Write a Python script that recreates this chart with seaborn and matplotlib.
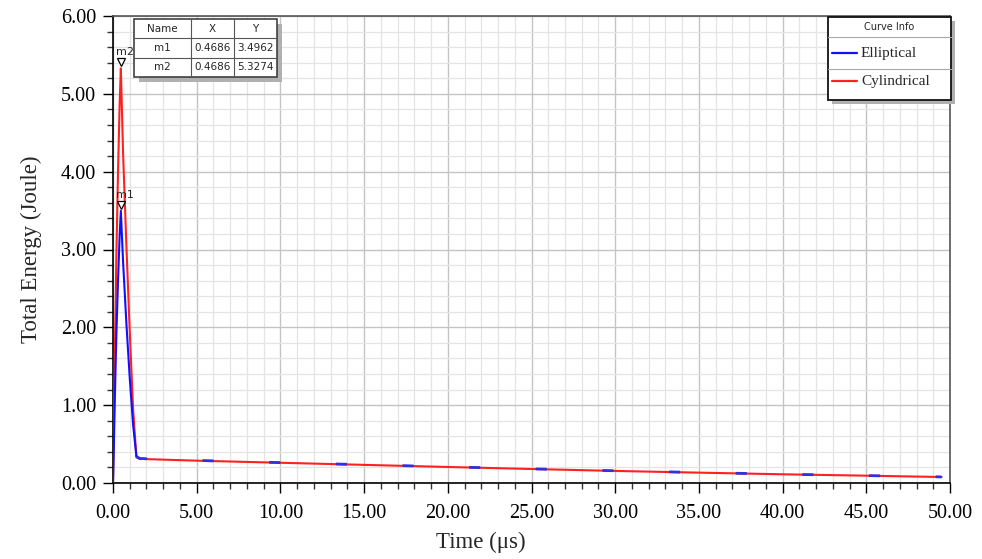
import numpy as np
import pandas as pd
import matplotlib.pyplot as plt
import seaborn as sns
from matplotlib.patches import Rectangle
from matplotlib.lines import Line2D
from matplotlib.ticker import MultipleLocator, FormatStrFormatter

# time axis (microseconds)
time_us = [0.0, 0.05, 0.1, 0.2, 0.3, 0.4, 0.4686, 0.6, 0.8, 1.0, 1.2, 1.4, 1.6,
           3.0, 5.0, 10.0, 15.0, 20.0, 25.0, 30.0, 35.0, 40.0, 45.0, 49.5]
elliptical = [0.0, 0.46, 1.0, 1.9, 2.6, 3.2, 3.4962, 2.85, 2.05, 1.35, 0.75, 0.34, 0.315,
              0.305, 0.29, 0.262, 0.235, 0.208, 0.182, 0.157, 0.135, 0.113, 0.095, 0.078]
cylindrical = [0.0, 0.6, 1.5, 2.9, 4.0, 4.9, 5.3274, 4.25, 3.05, 1.95, 0.95, 0.33, 0.31,
               0.30, 0.287, 0.26, 0.233, 0.206, 0.18, 0.155, 0.133, 0.112, 0.094, 0.077]

# marker table
marker_names = ['m1', 'm2']
marker_x = [0.4686, 0.4686]
marker_y = [3.4962, 5.3274]

df = pd.DataFrame({'Time': time_us, 'Elliptical': elliptical, 'Cylindrical': cylindrical})
peak = df[df['Time'] <= 1.6]
tail = df[df['Time'] >= 1.4]

W, H = 982, 559
fig = plt.figure(figsize=(W / 100, H / 100), dpi=100)
sns.set_style('white')
plt.rcParams['font.family'] = ['Liberation Serif', 'DejaVu Serif']

def px(x, y):
    # figure pixels (top-left origin) -> figure fraction
    return x / W, 1 - y / H

l, t = px(113, 16)
r, b = px(950, 483)
ax = fig.add_axes([l, b, r - l, t - b])

sns.lineplot(data=df, x='Time', y='Cylindrical', ax=ax, color='#ff2020', lw=1.5, zorder=3)
sns.lineplot(data=peak, x='Time', y='Elliptical', ax=ax, color='#1010ff', lw=1.5, zorder=4)
sns.lineplot(data=tail, x='Time', y='Elliptical', ax=ax, color='#3030e0', lw=2.0, zorder=4,
             linestyle=(0, (4, 20)))

ax.set_xlim(0, 50)
ax.set_ylim(0, 6)
ax.xaxis.set_major_locator(MultipleLocator(5))
ax.xaxis.set_minor_locator(MultipleLocator(1))
ax.yaxis.set_major_locator(MultipleLocator(1))
ax.yaxis.set_minor_locator(MultipleLocator(0.2))
ax.xaxis.set_major_formatter(FormatStrFormatter('%.2f'))
ax.yaxis.set_major_formatter(FormatStrFormatter('%.2f'))
ax.grid(which='major', color='#c4c4c4', lw=1.0)
ax.grid(which='minor', color='#e4e4e4', lw=0.9)
ax.set_axisbelow(True)
ax.tick_params(which='major', direction='out', length=7, width=1, colors='black',
               labelsize=14.5, left=True, bottom=True, pad=5)
ax.tick_params(axis='x', which='major', pad=8)
ax.tick_params(which='minor', direction='out', length=4, width=1, colors='#333333',
               left=True, bottom=True)
for s in ['left', 'bottom']:
    ax.spines[s].set_color('black')
    ax.spines[s].set_linewidth(1.2)
for s in ['top', 'right']:
    ax.spines[s].set_color('#555555')
    ax.spines[s].set_linewidth(1.2)
ax.set_xlabel('Time (μs)', fontsize=16.5, labelpad=10)
ax.xaxis.set_label_coords(0.44, -0.105)
ax.set_ylabel('Total Energy (Joule)', fontsize=16.5, labelpad=14)

# peak markers
for name, mx, my in zip(marker_names, marker_x, marker_y):
    ax.plot(mx, my + 0.08, marker='v', ms=6, mfc='white', mec='black', mew=0.9, zorder=6)
    ax.annotate(name, (mx, my), xytext=(3, 8), textcoords='offset points',
                fontsize=8, family='DejaVu Sans', ha='center', va='bottom', zorder=6)

def rect(x0, y0, x1, y1, **kw):
    fx0, fy1 = px(x0, y0)
    fx1, fy0 = px(x1, y1)
    fig.patches.append(Rectangle((fx0, fy0), fx1 - fx0, fy1 - fy0,
                                 transform=fig.transFigure, **kw))

def hline(x0, x1, y, **kw):
    fig.add_artist(Line2D([x0 / W, x1 / W], [1 - y / H, 1 - y / H], transform=fig.transFigure, **kw))

def vline(x, y0, y1, **kw):
    fig.add_artist(Line2D([x / W, x / W], [1 - y0 / H, 1 - y1 / H], transform=fig.transFigure, **kw))

# marker table (top-left)
rect(139, 24, 282, 82, facecolor='#b0b0b0', edgecolor='none', zorder=10)
rect(134, 19, 277, 77, facecolor='white', edgecolor='#333333', lw=1.1, zorder=11)
hline(134, 277, 38, color='#555555', lw=0.8, zorder=12)
hline(134, 277, 58, color='#555555', lw=0.8, zorder=12)
vline(191, 19, 77, color='#555555', lw=0.8, zorder=12)
vline(234, 19, 77, color='#555555', lw=0.8, zorder=12)
cols = [(134 + 191) / 2, (191 + 234) / 2, (234 + 277) / 2]
rows_y = [28.5, 48, 67.5]
header = ['Name', 'X', 'Y']
for cx, txt in zip(cols, header):
    fig.text(*px(cx, rows_y[0]), txt, fontsize=7.5, family='DejaVu Sans',
             ha='center', va='center', zorder=13)
for ry, name, mx, my in zip(rows_y[1:], marker_names, marker_x, marker_y):
    for cx, txt in zip(cols, [name, f'{mx:.4f}', f'{my:.4f}']):
        fig.text(*px(cx, ry), txt, fontsize=7.5, family='DejaVu Sans',
                 ha='center', va='center', zorder=13)

# curve info box (top-right)
rect(832, 21, 955, 104, facecolor='#b0b0b0', edgecolor='none', zorder=10)
rect(828, 17, 951, 100, facecolor='white', edgecolor='#111111', lw=1.3, zorder=11)
hline(828, 951, 37, color='#aaaaaa', lw=0.8, zorder=12)
hline(828, 951, 69, color='#aaaaaa', lw=0.8, zorder=12)
fig.text(*px(889, 27), 'Curve Info', fontsize=7, family='DejaVu Sans',
         ha='center', va='center', zorder=13)
for yy, name, col in [(53, 'Elliptical', '#1010ff'), (81, 'Cylindrical', '#ff2020')]:
    hline(832, 857, yy, color=col, lw=1.6, zorder=12)
    fig.text(*px(861, yy), name, fontsize=11, ha='left', va='center', zorder=13)

fig.savefig('out.png', dpi=100)
